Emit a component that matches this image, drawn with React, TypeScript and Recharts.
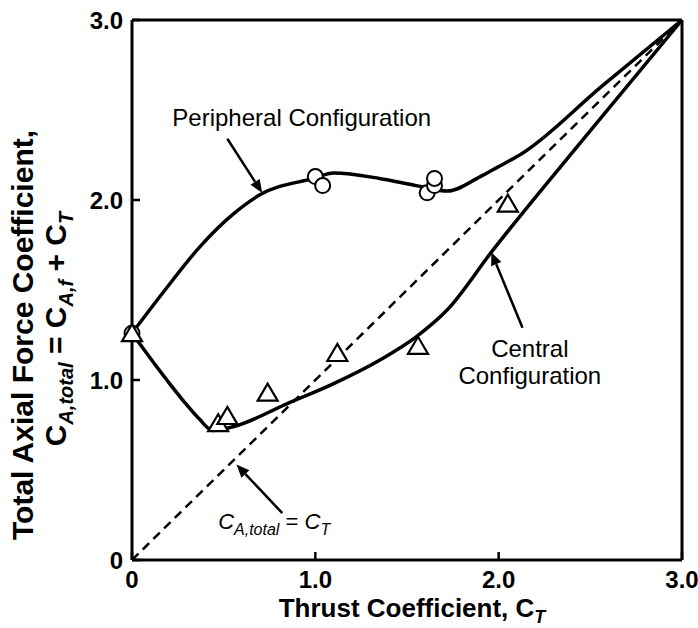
import React from "react";
import {
  ComposedChart,
  Line,
  Scatter,
  XAxis,
  YAxis,
  ReferenceLine,
  ReferenceDot,
} from "recharts";

const FONT = '"Liberation Sans", Arial, Helvetica, sans-serif';

// axis ticks
const axisTicks = [0, 1, 2, 3];
const innerTicks = [1, 2];
const tickLabels: Record<number, string> = { 0: "0", 1: "1.0", 2: "2.0", 3: "3.0" };

// faired curves
const peripheralCurve = [
  { x: 0, y: 1.26 },
  { x: 0.18, y: 1.5 },
  { x: 0.37, y: 1.74 },
  { x: 0.55, y: 1.92 },
  { x: 0.7, y: 2.03 },
  { x: 0.99, y: 2.12 },
  { x: 1.1, y: 2.15 },
  { x: 1.35, y: 2.12 },
  { x: 1.55, y: 2.08 },
  { x: 1.72, y: 2.05 },
  { x: 1.9, y: 2.13 },
  { x: 1.99, y: 2.18 },
  { x: 2.13, y: 2.26 },
  { x: 2.56, y: 2.63 },
  { x: 3, y: 3 },
];

const centralCurve = [
  { x: 0, y: 1.26 },
  { x: 0.19, y: 1.0 },
  { x: 0.3, y: 0.86 },
  { x: 0.37, y: 0.78 },
  { x: 0.44, y: 0.72 },
  { x: 0.55, y: 0.74 },
  { x: 0.85, y: 0.87 },
  { x: 1.1, y: 0.98 },
  { x: 1.35, y: 1.11 },
  { x: 1.55, y: 1.24 },
  { x: 1.72, y: 1.39 },
  { x: 1.96, y: 1.71 },
  { x: 2.48, y: 2.36 },
  { x: 3, y: 3 },
];

const identityLine = [
  { x: 0, y: 0 },
  { x: 3, y: 3 },
];

// measured points
const peripheralPoints = [
  { x: 0, y: 1.26 },
  { x: 1.0, y: 2.13 },
  { x: 1.04, y: 2.08 },
  { x: 1.61, y: 2.04 },
  { x: 1.65, y: 2.08 },
  { x: 1.65, y: 2.12 },
];

const centralPoints = [
  { x: 0, y: 1.26 },
  { x: 0.47, y: 0.76 },
  { x: 0.52, y: 0.8 },
  { x: 0.74, y: 0.93 },
  { x: 1.12, y: 1.15 },
  { x: 1.56, y: 1.19 },
  { x: 2.05, y: 1.98 },
];

const HollowCircle = (p: any) => (
  <circle cx={p.cx} cy={p.cy} r={7.5} fill="#fff" stroke="#000" strokeWidth={2} />
);

const HollowTriangle = (p: any) => (
  <polygon
    points={`${p.cx},${p.cy - 9} ${p.cx - 10},${p.cy + 8} ${p.cx + 10},${p.cy + 8}`}
    fill="#fff"
    stroke="#000"
    strokeWidth={2.2}
    strokeLinejoin="miter"
  />
);

const Arrow = (p: any) => {
  const { x1, y1, x2, y2 } = p;
  const a = Math.atan2(y2 - y1, x2 - x1);
  const len = 13;
  const w = 5.5;
  const bx = x2 - len * Math.cos(a);
  const by = y2 - len * Math.sin(a);
  const nx = -Math.sin(a) * w;
  const ny = Math.cos(a) * w;
  return (
    <g>
      <line x1={x1} y1={y1} x2={bx} y2={by} stroke="#000" strokeWidth={2.5} />
      <polygon points={`${x2},${y2} ${bx + nx},${by + ny} ${bx - nx},${by - ny}`} fill="#000" />
    </g>
  );
};

const textAt = (content: React.ReactNode, anchor: "start" | "middle" = "start", size = 24) =>
  (p: any) => (
    <text
      x={p.cx}
      y={p.cy}
      textAnchor={anchor}
      fontFamily={FONT}
      fontSize={size}
      fill="#000"
      style={{ whiteSpace: "pre" }}
    >
      {content}
    </text>
  );

const XTitle = (props: any) => {
  const vb = props.viewBox;
  return (
    <text
      x={vb.x + vb.width / 2 + 5}
      y={vb.y + 57}
      textAnchor="middle"
      fontFamily={FONT}
      fontWeight="bold"
      fontSize={26}
      fill="#000"
      style={{ whiteSpace: "pre" }}
    >
      Thrust Coefficient, C
      <tspan dy={6} fontSize={18} fontStyle="italic">T</tspan>
    </text>
  );
};

const YTitle = (props: any) => {
  const vb = props.viewBox;
  const cy = vb.y + 315;
  const x1 = vb.x - 39;
  const x2 = vb.x - 6;
  return (
    <g fontFamily={FONT} fontWeight="bold" fill="#000" style={{ whiteSpace: "pre" }}>
      <text x={x1} y={cy} transform={`rotate(-90 ${x1} ${cy})`} textAnchor="middle" fontSize={30}>
        Total Axial Force Coefficient,
      </text>
      <text x={x2} y={cy - 6} transform={`rotate(-90 ${x2} ${cy - 6})`} textAnchor="middle" fontSize={30}>
        C<tspan dy={7} fontSize={20} fontStyle="italic">A,total</tspan>
        <tspan dy={-7}> = C</tspan>
        <tspan dy={7} fontSize={20} fontStyle="italic">A,f</tspan>
        <tspan dy={-7}> + C</tspan>
        <tspan dy={7} fontSize={20} fontStyle="italic">T</tspan>
      </text>
    </g>
  );
};

const tickStyle = { fontFamily: FONT, fontSize: 24, fontWeight: "bold", fill: "#000" };
const axisLine = { stroke: "#000", strokeWidth: 3 };
const tickLine = { stroke: "#000", strokeWidth: 2.5 };

export default function App() {
  return (
    <div style={{ position: "absolute", left: 0, top: 0, background: "#fff" }}>
      <ComposedChart
        width={698}
        height={628}
        margin={{ top: 10, right: 6, bottom: 0, left: 72 }}
      >
        <XAxis
          xAxisId={0}
          type="number"
          dataKey="x"
          domain={[0, 3]}
          ticks={axisTicks}
          interval={0}
          tickFormatter={(v: number) => tickLabels[v] ?? ""}
          tick={tickStyle}
          tickSize={-8}
          tickMargin={19}
          axisLine={axisLine}
          tickLine={tickLine}
          height={68}
          label={{ content: XTitle }}
        />
        <XAxis
          xAxisId="top"
          orientation="top"
          type="number"
          dataKey="x"
          domain={[0, 3]}
          ticks={innerTicks}
          interval={0}
          tickFormatter={() => ""}
          tickSize={-8}
          axisLine={axisLine}
          tickLine={tickLine}
          height={10}
        />
        <YAxis
          yAxisId={0}
          type="number"
          dataKey="y"
          domain={[0, 3]}
          ticks={axisTicks}
          interval={0}
          tickFormatter={(v: number) => tickLabels[v] ?? ""}
          tick={tickStyle}
          tickSize={-8}
          tickMargin={17}
          axisLine={axisLine}
          tickLine={tickLine}
          width={60}
          label={{ content: YTitle }}
        />
        <YAxis
          yAxisId="right"
          orientation="right"
          type="number"
          dataKey="y"
          domain={[0, 3]}
          ticks={innerTicks}
          interval={0}
          tickFormatter={() => ""}
          tickSize={-8}
          axisLine={axisLine}
          tickLine={tickLine}
          width={10}
        />

        <Line
          data={identityLine}
          dataKey="y"
          type="linear"
          stroke="#000"
          strokeWidth={2.5}
          strokeDasharray="9 6"
          dot={false}
          activeDot={false}
          isAnimationActive={false}
        />
        <Line
          data={peripheralCurve}
          dataKey="y"
          type="monotone"
          stroke="#000"
          strokeWidth={3.5}
          dot={false}
          activeDot={false}
          isAnimationActive={false}
        />
        <Line
          data={centralCurve}
          dataKey="y"
          type="monotone"
          stroke="#000"
          strokeWidth={3.5}
          dot={false}
          activeDot={false}
          isAnimationActive={false}
        />
        <Scatter data={peripheralPoints} shape={HollowCircle} isAnimationActive={false} />
        <Scatter data={centralPoints} shape={HollowTriangle} isAnimationActive={false} />

        <ReferenceLine segment={[{ x: 0.52, y: 2.34 }, { x: 0.71, y: 2.04 }]} shape={Arrow} />
        <ReferenceLine segment={[{ x: 2.13, y: 1.29 }, { x: 1.96, y: 1.71 }]} shape={Arrow} />
        <ReferenceLine segment={[{ x: 0.82, y: 0.26 }, { x: 0.57, y: 0.53 }]} shape={Arrow} />

        <ReferenceDot x={0.22} y={2.41} r={0} shape={textAt("Peripheral Configuration")} />
        <ReferenceDot x={2.17} y={1.13} r={0} shape={textAt("Central", "middle")} />
        <ReferenceDot x={2.17} y={0.98} r={0} shape={textAt("Configuration", "middle")} />
        <ReferenceDot
          x={0.47}
          y={0.17}
          r={0}
          shape={textAt(
            <>
              <tspan fontStyle="italic">C</tspan>
              <tspan dy={6} fontSize={16} fontStyle="italic">A,total</tspan>
              <tspan dy={-6}> = </tspan>
              <tspan fontStyle="italic">C</tspan>
              <tspan dy={6} fontSize={16} fontStyle="italic">T</tspan>
            </>,
            "start",
            22
          )}
        />
      </ComposedChart>
    </div>
  );
}
